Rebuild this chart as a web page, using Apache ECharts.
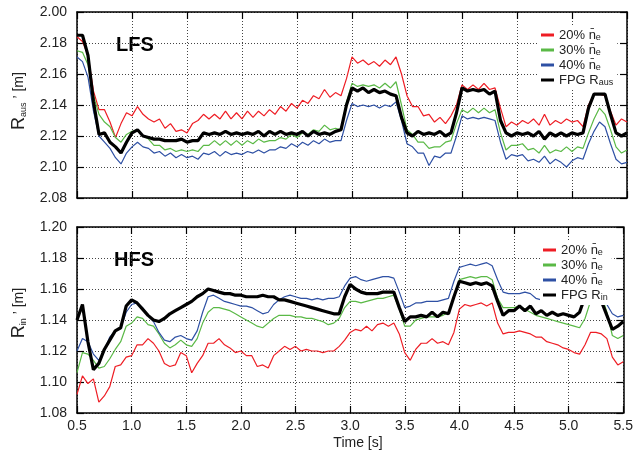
<!DOCTYPE html>
<html><head><meta charset="utf-8">
<script src="https://cdn.jsdelivr.net/npm/echarts@6/dist/echarts.min.js"></script>
<style>html,body{margin:0;padding:0;background:#fff}#c{width:636px;height:458px}</style>
</head><body><div id="c"></div>
<script>
const times = [0.50,0.55,0.60,0.65,0.70,0.75,0.80,0.85,0.90,0.95,
1.00,1.05,1.10,1.15,1.20,1.25,1.30,1.35,1.40,1.45,
1.50,1.55,1.60,1.65,1.70,1.75,1.80,1.85,1.90,1.95,
2.00,2.05,2.10,2.15,2.20,2.25,2.30,2.35,2.40,2.45,
2.50,2.55,2.60,2.65,2.70,2.75,2.80,2.85,2.90,2.95,
3.00,3.05,3.10,3.15,3.20,3.25,3.30,3.35,3.40,3.45,
3.50,3.55,3.60,3.65,3.70,3.75,3.80,3.85,3.90,3.95,
4.00,4.05,4.10,4.15,4.20,4.25,4.30,4.35,4.40,4.45,
4.50,4.55,4.60,4.65,4.70,4.75,4.80,4.85,4.90,4.95,
5.00,5.05,5.10,5.15,5.20,5.25,5.30,5.35,5.40,5.45,5.50];

const xTickLabels = ['0.5','1.0','1.5','2.0','2.5','3.0','3.5','4.0','4.5','5.0','5.5'];
const topTickLabels = ['2.08','2.10','2.12','2.14','2.16','2.18','2.00'];
const bottomTickLabels = ['1.08','1.10','1.12','1.14','1.16','1.18','1.20'];

// LFS (R_aus') panel
const lfs20 = [2.184,2.181,2.172,2.149,2.137,2.137,2.129,2.119,2.128,2.135,
2.133,2.139,2.134,2.131,2.129,2.131,2.125,2.128,2.123,2.124,
2.122,2.128,2.130,2.134,2.131,2.134,2.131,2.136,2.131,2.135,
2.131,2.136,2.132,2.136,2.133,2.137,2.134,2.139,2.136,2.141,
2.138,2.143,2.141,2.146,2.144,2.150,2.145,2.148,2.146,2.157,
2.171,2.167,2.169,2.166,2.168,2.165,2.169,2.166,2.171,2.160,
2.146,2.139,2.139,2.133,2.134,2.129,2.132,2.128,2.133,2.140,
2.153,2.150,2.153,2.150,2.154,2.150,2.151,2.138,2.126,2.129,
2.127,2.130,2.128,2.131,2.127,2.134,2.127,2.130,2.128,2.131,
2.129,2.130,2.126,2.140,2.147,2.147,2.146,2.136,2.127,2.131,2.129];
const lfs30 = [2.175,2.174,2.166,2.146,2.134,2.129,2.126,2.119,2.116,2.121,
2.123,2.124,2.120,2.118,2.114,2.114,2.111,2.112,2.110,2.111,
2.110,2.111,2.110,2.114,2.114,2.117,2.114,2.117,2.114,2.117,
2.114,2.117,2.115,2.118,2.116,2.117,2.117,2.119,2.118,2.121,
2.119,2.122,2.121,2.124,2.123,2.127,2.124,2.125,2.124,2.142,
2.154,2.152,2.153,2.152,2.153,2.151,2.154,2.151,2.155,2.140,
2.124,2.121,2.116,2.116,2.112,2.113,2.113,2.116,2.117,2.128,
2.137,2.135,2.138,2.135,2.138,2.135,2.137,2.122,2.111,2.114,
2.114,2.115,2.111,2.112,2.109,2.114,2.109,2.111,2.110,2.113,
2.110,2.113,2.112,2.122,2.131,2.138,2.134,2.124,2.113,2.109,2.111];
const lfs40 = [2.171,2.168,2.158,2.136,2.120,2.116,2.112,2.106,2.102,2.109,
2.113,2.116,2.113,2.112,2.109,2.110,2.107,2.109,2.106,2.108,
2.106,2.107,2.105,2.109,2.108,2.110,2.107,2.110,2.108,2.109,
2.108,2.110,2.109,2.111,2.109,2.111,2.111,2.113,2.112,2.115,
2.113,2.116,2.114,2.117,2.115,2.118,2.116,2.117,2.117,2.130,
2.141,2.139,2.140,2.139,2.140,2.138,2.140,2.139,2.142,2.130,
2.115,2.113,2.109,2.109,2.101,2.107,2.106,2.109,2.109,2.120,
2.133,2.131,2.132,2.131,2.132,2.131,2.130,2.116,2.105,2.108,
2.107,2.108,2.104,2.105,2.103,2.107,2.102,2.105,2.103,2.100,
2.104,2.106,2.105,2.115,2.123,2.129,2.126,2.115,2.105,2.102,2.103];
const lfsFPG = [2.185,2.185,2.172,2.142,2.121,2.122,2.116,2.113,2.109,2.116,
2.122,2.124,2.120,2.119,2.118,2.118,2.117,2.117,2.117,2.118,
2.116,2.117,2.117,2.122,2.121,2.122,2.121,2.123,2.121,2.122,
2.121,2.122,2.121,2.123,2.120,2.123,2.121,2.123,2.121,2.122,
2.121,2.123,2.120,2.123,2.121,2.122,2.121,2.123,2.124,2.140,
2.151,2.149,2.151,2.148,2.150,2.148,2.149,2.147,2.146,2.132,
2.122,2.120,2.123,2.121,2.122,2.121,2.123,2.120,2.122,2.135,
2.151,2.149,2.150,2.149,2.150,2.147,2.149,2.130,2.122,2.120,
2.122,2.121,2.122,2.120,2.123,2.118,2.122,2.120,2.122,2.120,
2.122,2.121,2.122,2.138,2.147,2.147,2.147,2.134,2.122,2.120,2.122];

// HFS (R_in') panel
const hfs20 = [1.092,1.104,1.099,1.102,1.087,1.091,1.097,1.110,1.111,1.116,
1.117,1.124,1.124,1.128,1.125,1.120,1.112,1.110,1.111,1.119,
1.117,1.106,1.112,1.117,1.125,1.125,1.128,1.124,1.122,1.119,
1.120,1.117,1.117,1.110,1.111,1.109,1.117,1.120,1.123,1.121,
1.123,1.120,1.121,1.120,1.120,1.119,1.120,1.120,1.123,1.127,
1.132,1.134,1.133,1.136,1.133,1.137,1.138,1.136,1.138,1.131,
1.119,1.114,1.121,1.125,1.125,1.128,1.125,1.126,1.124,1.132,
1.147,1.150,1.149,1.150,1.151,1.149,1.151,1.138,1.131,1.132,
1.132,1.133,1.132,1.131,1.129,1.129,1.126,1.125,1.124,1.122,
1.121,1.119,1.118,1.124,1.132,1.132,1.131,1.128,1.116,1.111,1.113];
const hfs30 = [1.106,1.119,1.118,1.114,1.109,1.110,1.115,1.121,1.126,1.136,
1.138,1.142,1.141,1.137,1.136,1.131,1.125,1.122,1.124,1.127,
1.124,1.123,1.128,1.138,1.145,1.148,1.148,1.147,1.146,1.144,
1.142,1.140,1.138,1.136,1.135,1.138,1.141,1.143,1.143,1.143,
1.142,1.142,1.141,1.141,1.140,1.139,1.137,1.138,1.141,1.148,
1.152,1.152,1.151,1.152,1.153,1.154,1.154,1.155,1.156,1.147,
1.136,1.136,1.140,1.141,1.142,1.142,1.142,1.143,1.145,1.155,
1.166,1.167,1.168,1.167,1.168,1.168,1.166,1.154,1.148,1.148,
1.148,1.149,1.147,1.145,1.143,1.142,1.141,1.140,1.139,1.138,
1.137,1.136,1.135,1.141,1.152,1.160,1.156,1.145,1.130,1.128,1.130];
const hfs40 = [1.120,1.128,1.126,1.118,1.114,1.120,1.129,1.133,1.135,1.145,
1.150,1.151,1.148,1.143,1.139,1.132,1.127,1.126,1.129,1.130,
1.128,1.127,1.133,1.145,1.155,1.156,1.154,1.152,1.151,1.150,
1.149,1.149,1.148,1.146,1.144,1.145,1.150,1.153,1.155,1.156,
1.155,1.154,1.154,1.153,1.154,1.153,1.154,1.154,1.155,1.162,
1.167,1.168,1.166,1.165,1.166,1.167,1.168,1.168,1.167,1.158,
1.148,1.149,1.151,1.151,1.152,1.152,1.152,1.153,1.154,1.165,
1.174,1.175,1.176,1.175,1.176,1.177,1.175,1.166,1.158,1.157,
1.157,1.157,1.158,1.157,1.154,1.153,1.153,1.152,1.152,1.152,
1.151,1.151,1.152,1.160,1.166,1.168,1.162,1.150,1.144,1.142,1.143];
const hfsFPG = [1.140,1.150,1.126,1.108,1.112,1.121,1.127,1.133,1.135,1.149,
1.153,1.151,1.147,1.143,1.140,1.139,1.141,1.144,1.146,1.148,
1.150,1.152,1.155,1.157,1.160,1.159,1.158,1.157,1.157,1.156,
1.156,1.155,1.155,1.155,1.156,1.155,1.155,1.153,1.153,1.152,
1.151,1.150,1.149,1.148,1.147,1.146,1.145,1.144,1.144,1.155,
1.163,1.160,1.158,1.157,1.157,1.157,1.158,1.158,1.158,1.148,
1.139,1.142,1.142,1.143,1.142,1.145,1.142,1.145,1.144,1.155,
1.165,1.164,1.163,1.164,1.163,1.164,1.162,1.152,1.143,1.146,
1.146,1.149,1.146,1.149,1.144,1.146,1.143,1.145,1.143,1.144,
1.143,1.142,1.145,1.155,1.160,1.160,1.152,1.143,1.134,1.136,1.139];

const COLORS = {red:'#ee1d24', green:'#5ab946', blue:'#2e50a4', black:'#000000'};
const FONT = 'Liberation Sans, Arial, Helvetica, sans-serif';
const pairs = vals => times.map((t, i) => [t, vals[i]]);

const legendText = {
  '20': '20% n\u0304{s|e}',
  '30': '30% n\u0304{s|e}',
  '40': '40% n\u0304{s|e}',
  'FPGaus': 'FPG R{s|aus}',
  'FPGin': 'FPG R{s|in}'
};

const dotted = {show:true, lineStyle:{color:'#444', width:1, type:[1,2]}};
const axisLine = {show:true, lineStyle:{color:'#000', width:1.5}};
const tick = {show:true, inside:true, length:7, lineStyle:{color:'#000', width:1.2}};

function xAxes(grid, showLabels){
  return [
    {gridIndex:grid, type:'value', min:0.5, max:5.5, interval:0.5, position:'bottom',
     axisLine, axisTick:tick, splitLine:dotted,
     axisLabel:{show:showLabels, fontFamily:FONT, fontSize:14, color:'#222', margin:6,
       formatter:(v, i) => xTickLabels[i]}},
    {gridIndex:grid, type:'value', min:0.5, max:5.5, interval:0.5, position:'top',
     axisLine, axisTick:tick, splitLine:{show:false}, axisLabel:{show:false}}
  ];
}
function yAxes(grid, mn, mx, labels){
  return [
    {gridIndex:grid, type:'value', min:mn, max:mx, interval:0.02, position:'left',
     axisLine, axisTick:tick, splitLine:dotted,
     axisLabel:{fontFamily:FONT, fontSize:14, color:'#222', margin:10,
       formatter:(v, i) => labels[i]}},
    {gridIndex:grid, type:'value', min:mn, max:mx, interval:0.02, position:'right',
     axisLine, axisTick:tick, splitLine:{show:false}, axisLabel:{show:false}}
  ];
}
function line(name, data, color, xi, yi, width){
  return {name, type:'line', xAxisIndex:xi, yAxisIndex:yi, data:pairs(data),
    showSymbol:false, symbol:'none', lineStyle:{color, width}, itemStyle:{color},
    z: width > 2 ? 3 : 2, silent:true};
}
function legend(left, top, names){
  return {left, top, orient:'vertical', data:names, icon:'rect', itemWidth:13, itemHeight:3,
    itemGap:1, selectedMode:false, backgroundColor:'#fff', padding:[3,4,3,3],
    textStyle:{fontFamily:FONT, fontSize:13, color:'#222', lineHeight:14,
      rich:{s:{fontFamily:FONT, fontSize:9, color:'#222', verticalAlign:'bottom', lineHeight:14}}},
    formatter:n => legendText[n]};
}

const chart = echarts.init(document.getElementById('c'), null, {renderer:'canvas'});
chart.setOption({
  animation:false,
  backgroundColor:'#fff',
  grid:[
    {left:77, top:12, width:550, height:186},
    {left:77, top:227, width:550, height:186}
  ],
  xAxis:[...xAxes(0, false), ...xAxes(1, true)],
  yAxis:[...yAxes(0, 2.08, 2.20, topTickLabels), ...yAxes(1, 1.08, 1.20, bottomTickLabels)],
  legend:[
    legend(538, 25, ['20','30','40','FPGaus']),
    legend(540, 240, ['20','30','40','FPGin'])
  ],
  series:[
    line('20', lfs20, COLORS.red, 0, 0, 1.2),
    line('30', lfs30, COLORS.green, 0, 0, 1.2),
    line('40', lfs40, COLORS.blue, 0, 0, 1.2),
    line('FPGaus', lfsFPG, COLORS.black, 0, 0, 3.2),
    line('20', hfs20, COLORS.red, 2, 2, 1.2),
    line('30', hfs30, COLORS.green, 2, 2, 1.2),
    line('40', hfs40, COLORS.blue, 2, 2, 1.2),
    line('FPGin', hfsFPG, COLORS.black, 2, 2, 3.2)
  ],
  graphic:[
    {type:'text', left:116, top:35, style:{text:'LFS', font:'bold 20px ' + FONT, fill:'#000'}},
    {type:'text', left:114, top:250, style:{text:'HFS', font:'bold 20px ' + FONT, fill:'#000'}},
    {type:'text', x:19, y:101, rotation:Math.PI/2,
     style:{text:'{r|R}{s|aus}{t| \u2019 [m]}', align:'center', verticalAlign:'middle',
       rich:{r:{fontFamily:FONT, fontSize:18, fill:'#222', lineHeight:18},
             s:{fontFamily:FONT, fontSize:9, fill:'#222', verticalAlign:'bottom', lineHeight:18},
             t:{fontFamily:FONT, fontSize:14, fill:'#222', lineHeight:18}}}},
    {type:'text', x:19, y:313, rotation:Math.PI/2,
     style:{text:'{r|R}{s|in}{t| \u2019 [m]}', align:'center', verticalAlign:'middle',
       rich:{r:{fontFamily:FONT, fontSize:18, fill:'#222', lineHeight:18},
             s:{fontFamily:FONT, fontSize:9, fill:'#222', verticalAlign:'bottom', lineHeight:18},
             t:{fontFamily:FONT, fontSize:14, fill:'#222', lineHeight:18}}}},
    {type:'text', x:358, y:443, style:{text:'Time [s]', font:'14px ' + FONT, fill:'#222',
      align:'center', verticalAlign:'middle'}}
  ]
});
</script></body></html>
